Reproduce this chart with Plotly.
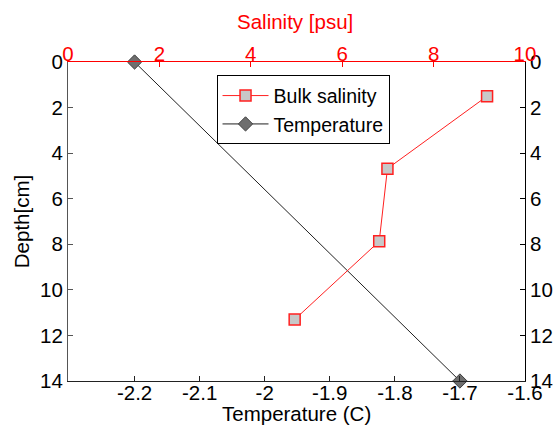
import plotly.graph_objects as go

# Data
sal_depth = [1.5, 4.68, 7.87, 11.3]
salinity = [9.17, 6.99, 6.81, 4.96]
temp_depth = [0, 14]
temperature = [-2.2, -1.7]

depth_ticks = [0, 2, 4, 6, 8, 10, 12, 14]
temp_ticks = [-2.2, -2.1, -2.0, -1.9, -1.8, -1.7, -1.6]
temp_ticklabels = ["-2.2", "-2.1", "-2", "-1.9", "-1.8", "-1.7", "-1.6"]
sal_ticks = [0, 2, 4, 6, 8, 10]

FONT = "Liberation Sans, Arial, sans-serif"
FS = 20.5
LEG_FS = 19.5
PLOT_H = 439 - 62 - 58

fig = go.Figure()
fig.add_trace(go.Scatter(
    x=salinity, y=sal_depth, name="Bulk salinity", xaxis="x2", yaxis="y",
    mode="lines+markers", cliponaxis=False,
    line=dict(color="#ff2020", width=1),
    marker=dict(symbol="square", size=11, color="#c8c8c8", line=dict(color="#ff2020", width=1.5)),
))
fig.add_trace(go.Scatter(
    x=temperature, y=temp_depth, name="Temperature", xaxis="x", yaxis="y",
    mode="lines+markers", cliponaxis=False,
    line=dict(color="#202020", width=1),
    marker=dict(symbol="diamond", size=11, color="#6e6e6e", line=dict(color="#404040", width=1)),
))
# invisible traces to activate helper axes
for xa, ya in (("x", "y2"), ("x3", "y"), ("x4", "y")):
    fig.add_trace(go.Scatter(x=[None], y=[None], xaxis=xa, yaxis=ya, showlegend=False, hoverinfo="skip"))

fig.update_layout(
    width=557, height=439,
    margin=dict(l=68, r=32, t=62, b=58),
    paper_bgcolor="white", plot_bgcolor="white",
    font=dict(family=FONT, size=FS, color="black"),
    showlegend=True,
    legend=dict(x=0.325, y=0.958, xanchor="left", yanchor="top",
                bgcolor="white", bordercolor="black", borderwidth=1,
                font=dict(family=FONT, size=LEG_FS, color="black"),
                itemwidth=46, tracegroupgap=0),
    # bottom temperature axis: line + ticks
    xaxis=dict(
        range=[-2.3023, -1.6], tickvals=temp_ticks, showticklabels=False,
        ticks="inside", ticklen=5, tickcolor="#222", showline=True, linecolor="#222", linewidth=1,
        showgrid=False, zeroline=False, automargin=False,
    ),
    # bottom temperature tick labels (slightly closer to the axis line)
    xaxis3=dict(
        matches="x", overlaying="x", anchor="free", position=3 / PLOT_H, side="bottom",
        tickvals=temp_ticks, ticktext=temp_ticklabels, ticks="", showline=False,
        showgrid=False, zeroline=False, automargin=False,
        tickfont=dict(size=FS, color="black"),
    ),
    # top salinity axis: line + ticks
    xaxis2=dict(
        range=[0, 10], tickvals=sal_ticks, overlaying="x", side="top", showticklabels=False,
        ticks="inside", ticklen=5, tickcolor="red", showline=True, linecolor="red", linewidth=1,
        showgrid=False, zeroline=False, automargin=False,
    ),
    # top salinity tick labels
    xaxis4=dict(
        matches="x2", overlaying="x", anchor="free", position=1 - 2.6 / PLOT_H, side="top",
        tickvals=sal_ticks, ticks="", showline=False,
        showgrid=False, zeroline=False, automargin=False,
        tickfont=dict(size=FS, color="red"),
    ),
    yaxis=dict(
        range=[14, 0], tickvals=depth_ticks, ticks="inside", ticklen=5, tickcolor="#555",
        showline=True, linecolor="#555", linewidth=1, showgrid=False, zeroline=False,
        automargin=False,
        title=dict(text="Depth[cm]", standoff=4, font=dict(size=FS)),
        tickfont=dict(size=FS, color="black"),
    ),
    yaxis2=dict(
        range=[14, 0], tickvals=depth_ticks, overlaying="y", side="right",
        ticks="inside", ticklen=5, tickcolor="black", automargin=False,
        showline=True, linecolor="black", linewidth=1, showgrid=False, zeroline=False,
        tickfont=dict(size=FS, color="black"),
    ),
    annotations=[
        dict(text="Temperature (C)", xref="paper", yref="paper", x=0.5, y=-0.102,
             xanchor="center", yanchor="middle", showarrow=False,
             font=dict(family=FONT, size=FS, color="black")),
        dict(text="Salinity [psu]", xref="paper", yref="paper", x=0.496, y=1.127,
             xanchor="center", yanchor="middle", showarrow=False,
             font=dict(family=FONT, size=FS, color="red")),
    ],
)

fig.write_html("out.html")
